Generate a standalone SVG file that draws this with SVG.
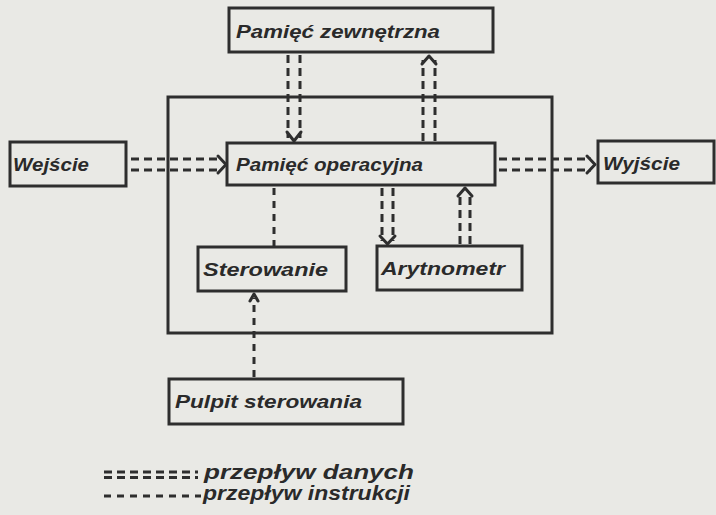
<svg xmlns="http://www.w3.org/2000/svg" width="716" height="515" viewBox="0 0 716 515">
<style>
.bg{fill:#e9e9e5}
.box{fill:none;stroke:#2e2e2e;stroke-width:3}
.t{font-family:"Liberation Sans",Arial,sans-serif;font-style:italic;font-weight:bold;font-size:19px;fill:#2a2a2a}
.lg{font-size:20px}
.dd{fill:none;stroke:#2e2e2e;stroke-width:3;stroke-dasharray:8 5}
.di{fill:none;stroke:#2e2e2e;stroke-width:3;stroke-dasharray:7 6}
.ah{fill:none;stroke:#2e2e2e;stroke-width:3;stroke-linecap:round;stroke-linejoin:round}
</style>
<rect class="bg" width="716" height="515"/>
<g id="frame"><rect class="box" x="168" y="97" width="384" height="236"/></g>
<g id="pamiec-zewnetrzna"><rect class="box" x="229" y="8" width="264" height="44"/><text class="t" x="236" y="38" textLength="204" lengthAdjust="spacingAndGlyphs">Pamięć zewnętrzna</text></g>
<g id="pamiec-operacyjna"><rect class="box" x="227" y="143" width="268" height="42"/><text class="t" x="236" y="171" textLength="187" lengthAdjust="spacingAndGlyphs">Pamięć operacyjna</text></g>
<g id="wejscie"><rect class="box" x="10" y="142" width="116" height="44"/><text class="t" x="13" y="171" textLength="76" lengthAdjust="spacingAndGlyphs">Wejście</text></g>
<g id="wyjscie"><rect class="box" x="598" y="141" width="116" height="42"/><text class="t" x="603" y="170" textLength="77" lengthAdjust="spacingAndGlyphs">Wyjście</text></g>
<g id="sterowanie"><rect class="box" x="198" y="247" width="148" height="44"/><text class="t" x="203" y="276" textLength="125" lengthAdjust="spacingAndGlyphs">Sterowanie</text></g>
<g id="arytnometr"><rect class="box" x="377" y="246" width="145" height="44"/><text class="t" x="381" y="275" textLength="124" lengthAdjust="spacingAndGlyphs">Arytnometr</text></g>
<g id="pulpit"><rect class="box" x="169" y="379" width="234" height="45"/><text class="t" x="175" y="408" textLength="187" lengthAdjust="spacingAndGlyphs">Pulpit sterowania</text></g>
<g id="connectors">
<path class="dd" d="M131 159H222M131 170H222"/><path class="ah" d="M218 156L226 164.5L218 173"/>
<path class="dd" d="M499 159H591M499 170H591"/><path class="ah" d="M587 156L595 164.5L587 173"/>
<path class="dd" d="M288 55V138M300 55V138"/><path class="ah" d="M287 132L294 141L301 132"/>
<path class="dd" d="M423 141V60M435 141V60"/><path class="ah" d="M422 64L429 56L436 64"/>
<path class="dd" d="M382 188V241M393 188V241"/><path class="ah" d="M380 236L387.5 244L395 236"/>
<path class="dd" d="M460 244V192M470 244V192"/><path class="ah" d="M458 196L465 188L472 196"/>
<path class="di" d="M274 188V247"/>
<path class="di" d="M254 377V298"/><path class="ah" d="M250 301L254 294L258 301"/>
</g>
<g id="legend">
<path class="dd" d="M104 472H198M104 477.5H198"/><text class="t lg" x="204" y="479" textLength="210" lengthAdjust="spacingAndGlyphs">przepływ danych</text>
<path class="di" d="M104 496H201"/><text class="t lg" x="203" y="500" textLength="207" lengthAdjust="spacingAndGlyphs">przepływ instrukcji</text>
</g>
</svg>
